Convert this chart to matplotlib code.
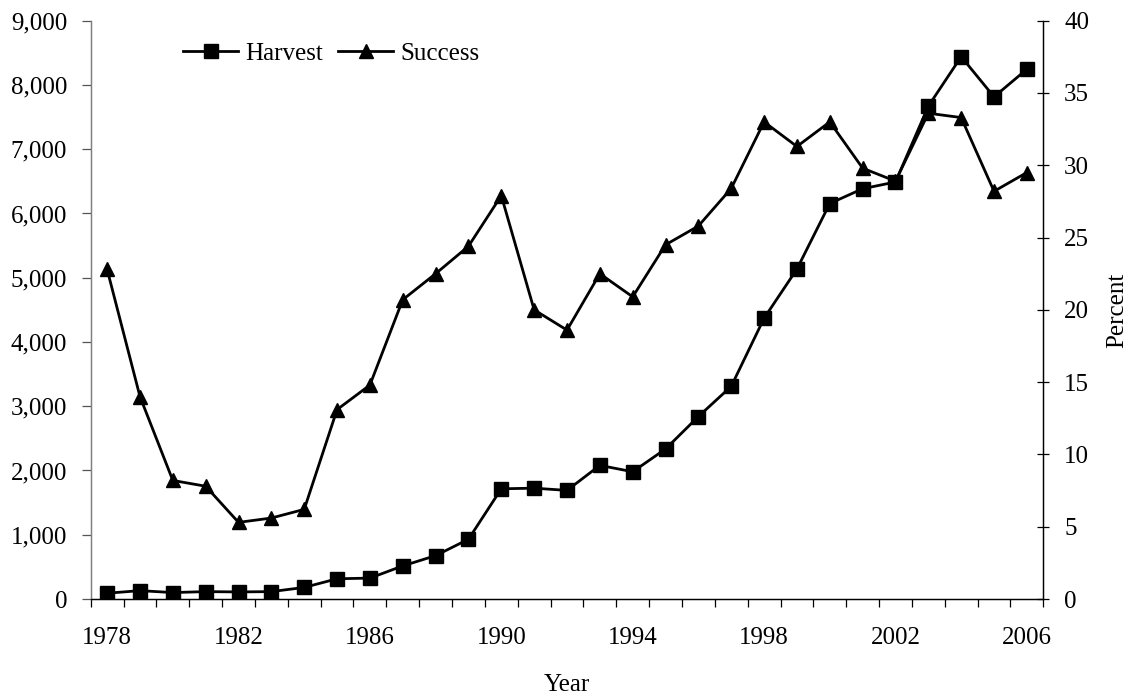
import matplotlib
matplotlib.use("Agg")
import matplotlib.pyplot as plt
from matplotlib.ticker import FixedLocator, FuncFormatter, MultipleLocator

years = list(range(1978, 2007))
harvest = [90, 130, 100, 115, 110, 115, 180, 315, 325, 515, 675, 930, 1715, 1725,
           1690, 2080, 1980, 2335, 2840, 3310, 4370, 5135, 6155, 6385, 6490, 7670,
           8440, 7815, 8245]
success = [22.8, 14.0, 8.2, 7.8, 5.3, 5.6, 6.2, 13.1, 14.8, 20.7, 22.5, 24.4, 27.9,
           20.0, 18.6, 22.5, 20.9, 24.5, 25.8, 28.4, 33.0, 31.3, 33.0, 29.8, 28.9,
           33.6, 33.3, 28.2, 29.5]
year_labels = [1978, 1982, 1986, 1990, 1994, 1998, 2002, 2006]

plt.rcParams['font.family'] = ['Liberation Serif', 'DejaVu Serif']
fs = 18

fig = plt.figure(figsize=(11.31, 6.98), dpi=100)
W, H = 1131, 698
x0, x1, ytop, ybot = 90.7, 1043.3, 20.7, 599.0
ax = fig.add_axes([x0 / W, 1 - ybot / H, (x1 - x0) / W, (ybot - ytop) / H])
ax2 = ax.twinx()

l1, = ax.plot(years, harvest, color='black', lw=2, marker='s', ms=10.5,
              markerfacecolor='black', markeredgecolor='black', label='Harvest', zorder=3)
l2, = ax2.plot(years, success, color='black', lw=2, marker='^', ms=10.5,
               markerfacecolor='black', markeredgecolor='black', label='Success', zorder=3)

ax.set_xlim(years[0] - 0.5, years[-1] + 0.5)
ax.set_ylim(0, 9000)
ax2.set_ylim(0, 40)

ax.xaxis.set_major_locator(FixedLocator(year_labels))
ax.xaxis.set_minor_locator(FixedLocator([y - 0.5 for y in years] + [years[-1] + 0.5]))
ax.tick_params(axis='x', which='major', length=0, pad=20.5, labelsize=fs)
ax.tick_params(axis='x', which='minor', length=5.5, width=0.9, direction='out', color='black')

ax.yaxis.set_major_locator(MultipleLocator(1000))
ax.yaxis.set_major_formatter(FuncFormatter(lambda v, p: f"{int(v):,}"))
ax.tick_params(axis='y', length=6.5, width=0.9, direction='out', pad=10.4,
               labelsize=fs, color='#555555')

ax2.yaxis.set_major_locator(MultipleLocator(5))
ax2.tick_params(axis='y', length=8, width=0.9, direction='inout', pad=11,
                labelsize=fs, color='black')

for a in (ax, ax2):
    a.spines['top'].set_visible(False)
    a.spines['bottom'].set_linewidth(0.9)
    a.spines['left'].set_linewidth(0.9)
    a.spines['right'].set_linewidth(0.9)
    a.spines['left'].set_color('#7f7f7f')
    a.spines['right'].set_color('black')
    a.spines['bottom'].set_color('black')
    a.set_facecolor('none')

ax.set_xlabel('Year', fontsize=fs, va='center')
ax.xaxis.set_label_coords(0.5, (ybot - 685) / (ybot - ytop))
ax2.set_ylabel('Percent', fontsize=fs, va='center', rotation=90)
ax2.yaxis.set_label_coords((1117 - x0) / (x1 - x0), (ybot - 310) / (ybot - ytop))

leg = ax.legend(handles=[l1, l2], ncol=2, frameon=False, fontsize=fs,
                loc='center left', bbox_to_anchor=((183 - x0) / (x1 - x0), (ybot - 53.3) / (ybot - ytop)),
                borderpad=0, borderaxespad=0, handlelength=2.2, handletextpad=0.3,
                columnspacing=0.6)

fig.savefig('out.png', dpi=100, facecolor='white')
